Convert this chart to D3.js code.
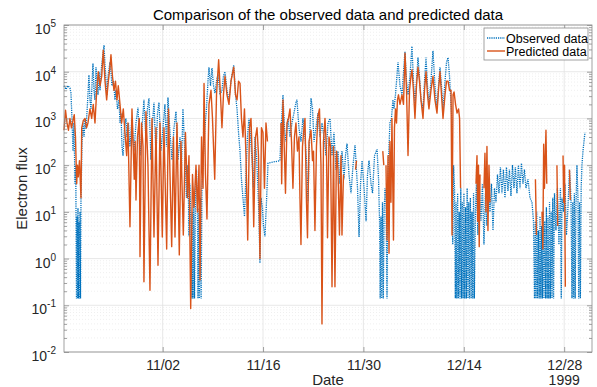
<!DOCTYPE html>
<html>
<head>
<meta charset="utf-8">
<script src="https://cdn.jsdelivr.net/npm/d3@7"></script>
<style>
  body { margin: 0; background: #fff; }
  svg { display: block; font-family: "Liberation Sans", Arial, sans-serif; }
</style>
</head>
<body>
<div id="chart"></div>
<script>
// days after 1999-10-19 00:00 UTC, flux values
var obsDay = [
  0.24,0.52,0.79,1.07,1.21,1.35,1.49,1.63,1.77,1.88,1.98,2.05,2.12,2.19,2.26,2.33,2.40,2.47,2.54,2.61,
  2.75,2.89,3.03,3.17,3.31,3.44,3.58,3.72,3.86,4.00,4.14,4.28,4.42,4.56,4.70,4.84,4.98,5.12,5.26,5.47,
  5.68,5.82,5.96,6.10,6.24,6.38,6.65,6.79,6.93,7.14,7.35,7.49,7.70,7.91,8.05,8.19,8.33,8.47,8.67,8.88,
  9.02,9.23,9.44,
  9.72,10.00,10.28,10.56,10.84,11.12,11.39,11.67,11.88,12.09,12.37,12.58,12.79,13.07,13.28,13.49,13.77,14.04,14.32,14.53,
  14.74,15.02,15.30,15.58,15.86,16.14,16.42,16.62,16.83,17.11,17.32,17.53,17.67,17.81,17.95,18.09,18.16,18.23,18.33,18.44,
  18.58,18.72,18.86,18.93,19.07,19.14,19.27,19.37,19.48,
  19.69,19.90,20.11,20.32,20.46,20.67,20.88,21.09,21.30,21.51,21.72,22.00,22.27,22.48,22.69,22.97,23.25,23.53,23.91,24.16,
  24.37,24.58,24.79,24.99,25.20,25.41,25.62,25.83,26.04,26.25,26.46,26.67,26.88,27.09,27.29,27.43,27.57,27.71,27.92,28.06,
  28.27,28.48,28.69,
  30.36,30.50,30.78,30.99,31.20,31.48,31.76,32.03,32.31,32.59,32.73,33.01,33.29,33.57,33.85,34.06,34.27,34.41,34.55,34.69,
  34.90,35.11,35.38,35.66,35.94,36.22,36.50,36.78,37.06,37.34,37.62,37.89,38.17,38.45,38.73,39.01,39.29,39.50,
  39.71,39.99,40.27,40.55,40.83,41.18,41.39,41.60,41.81,42.09,42.37,42.57,42.78,43.06,43.27,43.55,43.90,44.11,44.25,44.34,
  44.45,44.55,44.66,44.77,44.89,45.01,45.15,45.29,45.43,
  45.57,45.70,45.91,46.12,46.26,46.47,46.68,46.82,47.10,47.38,47.66,47.80,48.01,48.22,48.49,48.77,48.98,49.19,49.40,49.61,
  49.82,50.03,50.31,50.52,50.73,50.94,51.14,51.42,51.70,51.98,52.26,52.47,52.68,52.89,53.10,53.38,53.59,53.80,54.01,54.22,
  54.36,54.46,54.57,54.71,
  54.82,54.92,55.03,55.14,55.25,55.36,55.47,55.58,55.69,55.80,55.91,56.02,56.13,56.25,56.36,56.47,56.58,56.69,56.80,56.92,
  57.03,57.14,57.25,57.36,57.47,
  57.62,57.76,57.97,58.18,58.39,58.60,58.81,59.02,59.23,59.44,59.65,59.86,60.07,60.28,60.49,60.70,60.91,61.11,61.32,61.53,
  61.74,61.95,62.16,62.37,62.58,62.79,63.00,63.20,63.41,63.62,63.84,64.04,64.25,64.46,64.67,64.95,65.23,65.51,65.72,
  65.86,65.97,66.07,66.18,66.29,66.40,66.52,66.63,66.74,66.85,66.96,67.07,67.18,67.29,67.41,67.52,67.63,67.74,67.85,67.96,
  68.07,68.19,68.30,68.41,68.52,68.65,
  68.85,69.06,69.27,69.48,69.59,69.69,69.90,70.11,70.32,70.53,70.74,70.95,71.09,71.20,71.31,71.42,71.53,71.64,71.78,71.92,
  72.03,72.14,72.26,72.37,72.48,72.62,72.76,72.90
];
var obsFlux = [
  5000,4200,5000,4500,3500,1000,200,800,40,100,0.14,8,0.14,12,0.14,6,0.14,10,0.14,20,
  300,800,400,1000,600,1300,3200,8500,2500,1600,5000,15000,4000,2500,12500,6300,3200,10000,4000,12500,
  25000,37000,14000,6300,3200,8000,16000,10000,5000,6300,2500,4000,1600,2500,800,1300,250,160,630,1000,
  400,800,250,
  1000,200,800,1700,160,630,2500,320,1600,2700,130,800,2200,160,1300,2200,200,630,2000,250,
  2800,500,130,630,1400,130,400,80,1600,160,20,100,3,40,4,0.14,10,0.14,16,0.14,
  25,80,8,0.14,12,0.14,20,0.14,32,
  160,630,1600,6300,12500,5000,12000,5000,3500,6300,9000,3200,4000,8000,10000,4000,2500,6300,14000,3200,
  1600,500,200,50,20,8,63,400,1000,400,130,32,400,160,32,8,0.8,20,12,5,
  3,16,110,
  125,500,3200,630,320,1000,400,800,1300,2200,2500,630,320,1000,400,130,16,160,630,2700,
  1600,320,630,1300,400,800,400,160,800,1000,160,500,80,200,40,200,50,160,
  290,63,25,100,270,32,2.9,40,125,32,6.3,63,125,40,25,160,220,50,6.3,0.14,
  8,0.14,16,0.14,10,32,20,0.14,63,
  250,800,1000,2500,1600,3200,8300,16000,5000,3200,14000,27000,6300,3200,8000,35000,6300,2000,6300,20000,
  8000,2500,1600,6300,20000,5000,2000,6300,28000,5000,1600,5000,12500,5000,1600,6300,16000,20000,8000,2000,
  800,2,100,32,
  0.14,16,0.14,25,0.14,10,0.14,32,0.14,16,0.14,25,0.14,12.6,0.14,32,0.14,16,0.14,20,
  0.14,10,0.14,25,0.14,
  10,40,3.2,32,6.3,40,2,25,5,50,10,40,4,32,16,63,25,90,25,80,
  20,90,28,80,22,100,32,90,25,100,32,110,40,80,32,50,20,16,6.3,
  0.14,6.3,0.14,10,0.14,4,0.14,8,0.14,5,0.14,10,0.14,6.3,0.14,12.6,0.14,8,0.14,16,
  0.14,10,0.14,20,0.14,25,
  4,32,2,32,0.14,20,10,40,3.2,12.6,80,20,0.14,16,0.14,25,0.14,12.6,100,20,
  0.14,16,0.14,32,100,200,320,500
];

// predicted series, null marks a gap
var predDay = [
  0.24,0.45,0.66,0.86,1.07,1.28,1.49,1.67,1.84,2.01,2.12,2.23,2.40,2.61,2.71,2.93,3.17,3.38,3.58,3.86,
  4.10,4.32,4.56,4.80,5.02,5.26,5.50,5.72,5.96,6.19,6.42,6.65,6.79,7.00,7.21,7.42,7.63,7.81,8.05,8.28,
  8.51,8.74,8.98,9.16,9.44,
  9.72,10.04,10.17,10.28,10.49,10.74,10.84,11.05,11.26,11.39,11.67,11.95,12.23,12.51,12.79,13.07,13.35,13.63,13.95,14.18,
  14.56,14.81,15.26,15.51,15.72,16.00,16.32,16.55,16.88,17.18,17.46,17.67,17.91,18.16,18.37,18.65,18.86,19.07,19.21,
  19.42,19.63,19.77,19.97,20.18,20.46,20.74,20.95,21.26,21.51,21.81,22.06,22.27,22.48,22.69,22.97,23.25,23.53,23.91,24.16,
  24.37,24.58,24.79,24.99,25.20,25.41,25.62,25.86,26.11,26.32,26.53,26.70,26.95,27.16,27.37,27.57,27.78,27.99,28.20,28.41,
  28.62,
  29.5,
  30.50,30.60,30.78,30.99,31.13,31.34,31.55,31.76,31.97,32.17,32.38,32.59,32.80,33.01,33.15,33.29,33.50,33.71,33.85,34.06,
  34.20,34.41,34.69,34.90,35.04,35.24,35.45,35.66,35.87,36.08,36.22,36.43,36.64,36.85,36.99,37.20,37.41,37.62,37.83,38.03,
  38.24,38.45,38.66,38.87,39.01,39.22,
  40.0, 40.90,41.04, 42.5, 44.70,44.84, 45.0,
  45.15,45.29,45.43,45.57,45.70,45.84,45.98,46.19,46.33,46.47,46.61,46.75,46.89,47.10,47.38,47.59,47.80,48.01,48.22,48.43,
  48.63,48.77,48.98,49.19,49.40,49.61,49.82,50.03,50.31,50.52,50.73,50.94,51.14,51.42,51.70,51.98,52.26,52.47,52.68,52.89,
  53.10,53.38,53.59,53.80,54.01,54.22,54.36,54.50,54.64,54.85,55.06,55.27,55.41,55.55,
  56.5, 57.70,57.84,57.94,58.05,58.15,58.26,
  58.5, 58.81,58.95,59.09,59.23,59.37,59.51,59.65,
  62.0, 65.99,66.13,
  66.5, 66.91,67.02,67.14,67.25,67.46,67.57,
  68.5, 68.99,69.10,
  69.5, 69.84,69.93,70.05,70.16,
  70.5, 70.74,70.85
];
var predFlux = [
  560,1500,800,560,1000,630,900,1200,400,40,100,56,125,20,630,900,1000,630,800,1600,
  1000,2000,800,4000,10000,5000,8000,29000,6300,2500,6300,12500,23000,8000,4000,6300,2500,5000,2000,800,
  1600,500,160,800,4.8,
  1600,50,320,18,400,1000,1.1,800,250,0.32,1400,100,0.21,1000,2.9,630,0.72,800,2.9,630,
  1.6,1600,1.8,400,2.9,800,1.2,320,3.2,500,20,160,0.085,63,12.6,100,10,100,0.35,
  400,32,5600,63,7,2000,4000,1000,50,3200,18000,3200,630,3200,8000,3200,2000,6300,12500,3200,
  2500,6300,5600,1000,400,1600,160,2.5,630,1000,100,4.8,400,630,160,1,630,500,32,800,
  320,
  null,
  800,40,2500,160,25,800,1000,1600,320,32,400,800,200,400,20,2,250,630,1000,16,
  2.8,320,560,125,200,4,250,1100,1600,100,0.04,320,1000,200,2.8,400,250,0.25,250,0.25,
  200,80,3.2,160,3.2,63,
  null, 80,125, null, 200,100, null,
  100,2.5,160,1.3,320,16,1000,2.5,630,1600,800,2500,3200,2000,3200,2000,25000,4000,160,4000,
  8000,11000,4000,1000,5000,12500,6300,2500,1000,4000,10000,3200,1600,4000,8000,2500,1300,4000,10000,3200,
  1000,3200,6300,6300,4000,4000,3.2,3200,3700,2000,1300,1600,1000,32,
  null, 40,160,6.3,100,1.8,63,
  null, 32,180,10,250,4,100,16,
  null, 50,3.2,
  null, 10,1.6,280,32,560,40,
  null, 100,5,
  null, 160,16,100,0.25,
  null, 80,18
];

var yTicks = [1e-2, 1e-1, 1e0, 1e1, 1e2, 1e3, 1e4, 1e5];
var xTickDates = ["1999-11-02", "1999-11-16", "1999-11-30", "1999-12-14", "1999-12-28"];
var seriesNames = ["Observed data", "Predicted data"];

var W = 597, H = 387;
var pL = 64, pR = 592, pT = 25, pB = 352;
var blue = "#0072BD", orange = "#D95319";
var textColor = "#262626";
var frameColor = "#8a8a8a";

var origin = Date.UTC(1999, 9, 19);
function toDate(d) { return new Date(origin + d * 864e5); }

var obs = obsDay.map(function (d, i) { return { t: toDate(d), v: obsFlux[i] }; });
var pred = predDay.map(function (d, i) { return { t: toDate(d), v: predFlux[i] }; });

var x = d3.scaleUtc()
  .domain([toDate(0.24), toDate(73.88)])
  .range([pL, pR]);
var y = d3.scaleLog()
  .domain([1e-2, 1e5])
  .range([pB, pT]);

var svg = d3.select("#chart").append("svg")
  .attr("width", W)
  .attr("height", H);

// minor grid (log sub-decades)
var minorVals = [];
for (var e = -2; e < 5; e++) {
  for (var k = 2; k <= 9; k++) minorVals.push(k * Math.pow(10, e));
}
svg.append("g").selectAll("line").data(minorVals).enter().append("line")
  .attr("x1", pL).attr("x2", pR)
  .attr("y1", function (d) { return y(d); }).attr("y2", function (d) { return y(d); })
  .attr("stroke", "#e4e4e4").attr("stroke-width", 0.6)
  .attr("stroke-dasharray", "1,2");

// major grid
svg.append("g").selectAll("line").data(yTicks).enter().append("line")
  .attr("x1", pL).attr("x2", pR)
  .attr("y1", function (d) { return y(d); }).attr("y2", function (d) { return y(d); })
  .attr("stroke", "#e2e2e2").attr("stroke-width", 0.8);
var xTicks = xTickDates.map(function (s) { return new Date(s + "T00:00:00Z"); });
svg.append("g").selectAll("line").data(xTicks).enter().append("line")
  .attr("x1", function (d) { return x(d); }).attr("x2", function (d) { return x(d); })
  .attr("y1", pT).attr("y2", pB)
  .attr("stroke", "#e2e2e2").attr("stroke-width", 0.8);

// series
var line = d3.line()
  .defined(function (d) { return d.v != null; })
  .x(function (d) { return x(d.t); })
  .y(function (d) { return y(d.v); });

var plot = svg.append("g");
plot.append("path")
  .datum(obs)
  .attr("d", line)
  .attr("fill", "none")
  .attr("stroke", blue)
  .attr("stroke-width", 1.3)
  .attr("stroke-dasharray", "1.2,1");
plot.append("path")
  .datum(pred)
  .attr("d", line)
  .attr("fill", "none")
  .attr("stroke", orange)
  .attr("stroke-width", 1.4)
  .attr("stroke-linejoin", "round");

// frame
svg.append("rect")
  .attr("x", pL).attr("y", pT)
  .attr("width", pR - pL).attr("height", pB - pT)
  .attr("fill", "none").attr("stroke", frameColor).attr("stroke-width", 0.8);

// axes
var fmt = d3.utcFormat("%m/%d");
var xAxis = svg.append("g")
  .attr("transform", "translate(0," + pB + ")")
  .call(d3.axisBottom(x).tickValues(xTicks).tickSize(-5).tickPadding(8).tickFormat(fmt));
var xTop = svg.append("g")
  .attr("transform", "translate(0," + pT + ")")
  .call(d3.axisTop(x).tickValues(xTicks).tickSize(-5).tickFormat(""));
var yAxis = svg.append("g")
  .attr("transform", "translate(" + pL + ",0)")
  .call(d3.axisLeft(y).tickValues(yTicks).tickSize(-5).tickFormat(""));
var yMinorL = svg.append("g")
  .attr("transform", "translate(" + pL + ",0)")
  .call(d3.axisLeft(y).tickValues(minorVals).tickSize(-3).tickFormat(""));
var yRight = svg.append("g")
  .attr("transform", "translate(" + pR + ",0)")
  .call(d3.axisRight(y).tickValues(yTicks).tickSize(-5).tickFormat(""));
var yMinorR = svg.append("g")
  .attr("transform", "translate(" + pR + ",0)")
  .call(d3.axisRight(y).tickValues(minorVals).tickSize(-3).tickFormat(""));

[xAxis, xTop, yAxis, yMinorL, yRight, yMinorR].forEach(function (g) {
  g.select(".domain").remove();
  g.selectAll(".tick line").attr("stroke", frameColor).attr("stroke-width", 0.8);
});
xAxis.selectAll(".tick text")
  .attr("fill", textColor)
  .style("font-size", "14px");

// year under last tick
svg.append("text")
  .attr("x", x(xTicks[xTicks.length - 1]))
  .attr("y", 385)
  .attr("text-anchor", "middle")
  .attr("fill", textColor)
  .style("font-size", "14px")
  .text("1999");

// y tick labels with superscript exponents
var yl = svg.append("g").selectAll("text").data(yTicks).enter().append("text")
  .attr("x", pL - 8)
  .attr("y", function (d) { return y(d) + 9; })
  .attr("text-anchor", "end")
  .attr("fill", textColor)
  .style("font-size", "14px");
yl.append("tspan").text("10");
yl.append("tspan")
  .attr("dy", -7)
  .style("font-size", "10px")
  .text(function (d) { return String(Math.round(Math.log10(d))); });

// titles
svg.append("text")
  .attr("x", (pL + pR) / 2)
  .attr("y", 20)
  .attr("text-anchor", "middle")
  .attr("fill", "#000")
  .style("font-size", "15px")
  .text("Comparison of the observed data and predicted data");
svg.append("text")
  .attr("x", (pL + pR) / 2)
  .attr("y", 385)
  .attr("text-anchor", "middle")
  .attr("fill", textColor)
  .style("font-size", "15px")
  .text("Date");
svg.append("text")
  .attr("transform", "translate(27," + ((pT + pB) / 2) + ") rotate(-90)")
  .attr("text-anchor", "middle")
  .attr("fill", textColor)
  .style("font-size", "15px")
  .text("Electron flux");

// legend
var lg = svg.append("g").attr("transform", "translate(484,28)");
lg.append("rect")
  .attr("width", 104).attr("height", 32)
  .attr("fill", "#fff").attr("stroke", frameColor).attr("stroke-width", 0.8);
var items = lg.selectAll("g.item").data(seriesNames).enter().append("g")
  .attr("class", "item")
  .attr("transform", function (d, i) { return "translate(0," + (10 + i * 13) + ")"; });
items.append("line")
  .attr("x1", 3).attr("x2", 21).attr("y1", 0).attr("y2", 0)
  .attr("stroke", function (d, i) { return i === 0 ? blue : orange; })
  .attr("stroke-width", function (d, i) { return i === 0 ? 1.3 : 1.4; })
  .attr("stroke-dasharray", function (d, i) { return i === 0 ? "1.2,1" : null; });
items.append("text")
  .attr("x", 22).attr("y", 4.5)
  .attr("fill", "#000")
  .style("font-size", "12.5px")
  .text(function (d) { return d; });
</script>
</body>
</html>
